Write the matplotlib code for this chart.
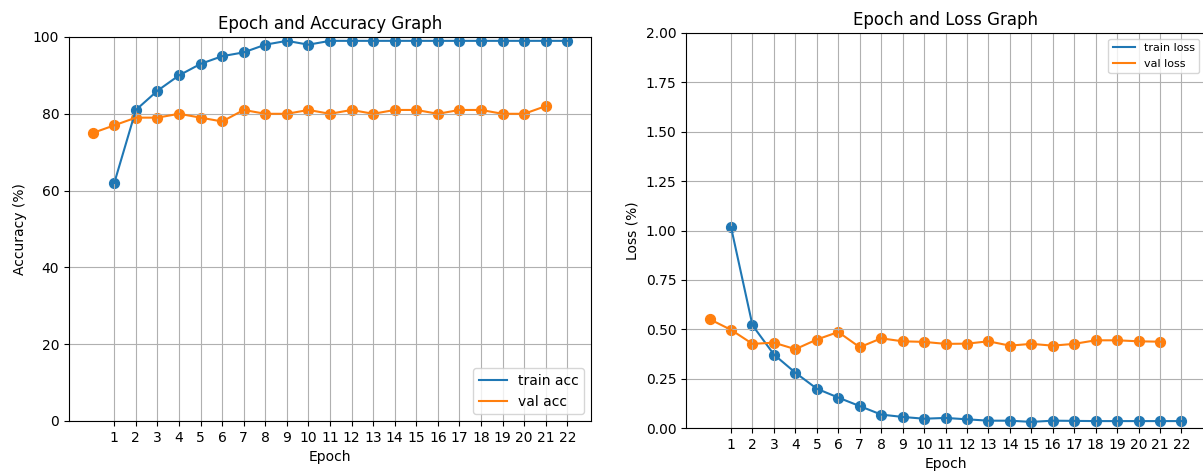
import numpy as np
import matplotlib
matplotlib.use("Agg")
import matplotlib.pyplot as plt

# training history
epochs_train = list(range(1, 23))
epochs_val = list(range(0, 22))

train_acc = [62, 81, 86, 90, 93, 95, 96, 98, 99, 98, 99,
             99, 99, 99, 99, 99, 99, 99, 99, 99, 99, 99]
val_acc = [75, 77, 79, 79, 80, 79, 78, 81, 80, 80, 81,
           80, 81, 80, 81, 81, 80, 81, 81, 80, 80, 82]

train_loss = [1.017, 0.52, 0.372, 0.28, 0.199, 0.154, 0.111, 0.068, 0.056, 0.047, 0.051,
              0.044, 0.037, 0.037, 0.031, 0.037, 0.036, 0.035, 0.035, 0.035, 0.035, 0.035]
val_loss = [0.551, 0.497, 0.426, 0.432, 0.399, 0.448, 0.486, 0.409, 0.454, 0.439, 0.436,
            0.426, 0.427, 0.439, 0.417, 0.426, 0.417, 0.426, 0.444, 0.444, 0.439, 0.437]

xticks = list(range(1, 23))

W, H = 1203, 472
fig = plt.figure(figsize=(W / 100, H / 100), dpi=100)

def px_axes(x0, x1, ytop, ybot):
    return fig.add_axes([x0 / W, 1 - ybot / H, (x1 - x0) / W, (ybot - ytop) / H])

def draw(ax, x_tr, y_tr, x_va, y_va, labels):
    ax.plot(x_tr, y_tr, label=labels[0])
    ax.plot(x_va, y_va, label=labels[1])
    ax.scatter(x_tr, y_tr, s=50)
    ax.scatter(x_va, y_va, s=50)
    ax.set_xticks(xticks)
    ax.grid(True)

# accuracy
ax1 = px_axes(69, 591, 37, 421)
draw(ax1, epochs_train, train_acc, epochs_val, val_acc, ["train acc", "val acc"])
ax1.set_ylim(0, 100)
ax1.set_yticks(np.arange(0, 101, 20))
ax1.set_title("Epoch and Accuracy Graph", fontsize=12)
ax1.set_xlabel("Epoch")
ax1.set_ylabel("Accuracy (%)")
ax1.legend(loc="lower right")

# loss
ax2 = px_axes(686, 1205, 33, 428)
draw(ax2, epochs_train, train_loss, epochs_val, val_loss, ["train loss", "val loss"])
ax2.set_ylim(0, 2)
ax2.set_yticks(np.arange(0, 2.01, 0.25))
ax2.set_title("Epoch and Loss Graph", fontsize=12)
ax2.set_xlabel("Epoch")
ax2.set_ylabel("Loss (%)")
ax2.legend(loc="upper right", fontsize=8)

fig.savefig("out.png", dpi=100)
